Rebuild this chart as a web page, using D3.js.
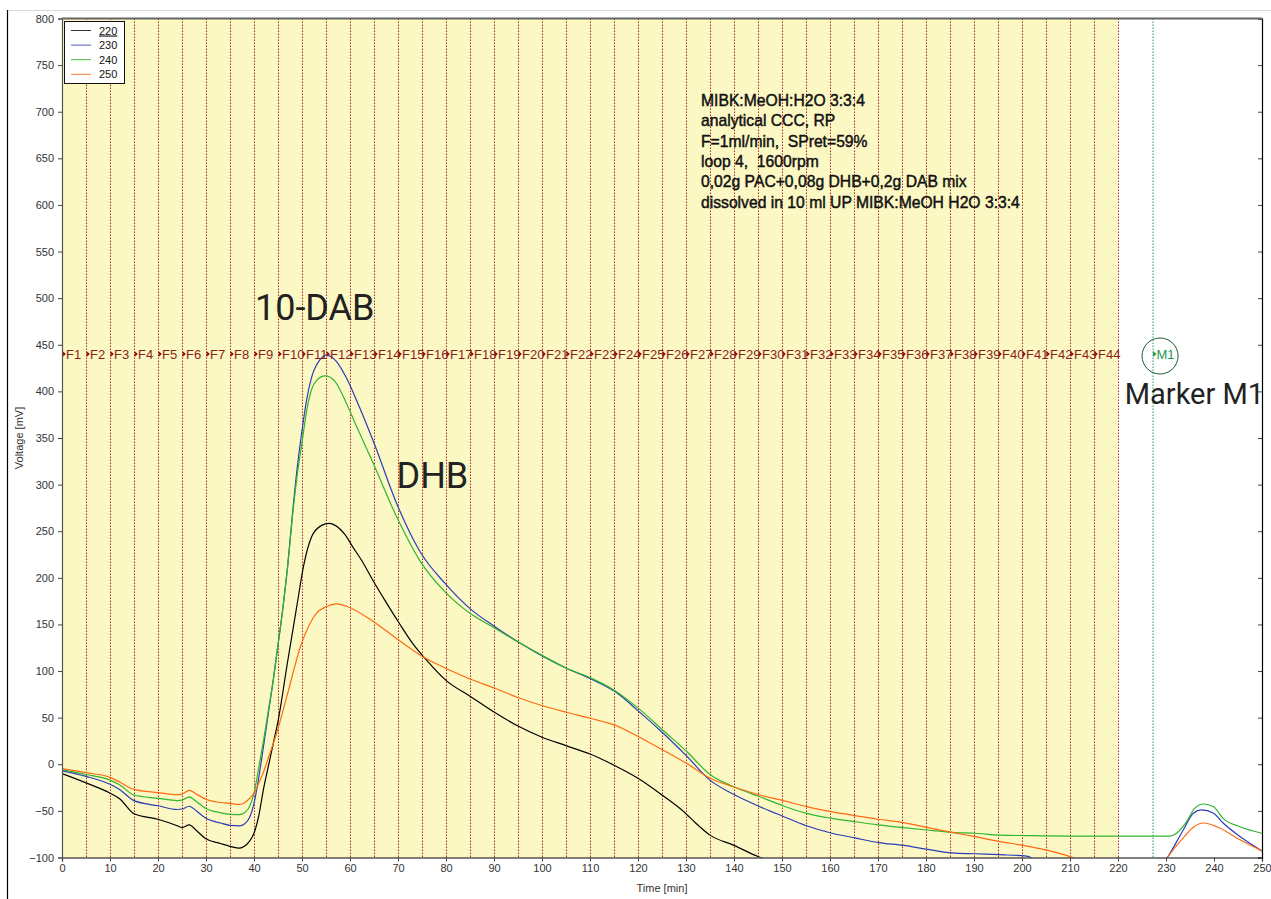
<!DOCTYPE html>
<html>
<head>
<meta charset="utf-8">
<script src="https://cdn.jsdelivr.net/npm/d3@7"></script>
<style>
  html, body { margin: 0; padding: 0; background: #fff; }
  svg { display: block; }
</style>
</head>
<body>
<svg id="chart" width="1271" height="899"></svg>
<script>
// Chromatogram: UV detector traces at four wavelengths (nm)
const seriesNames = ["220", "230", "240", "250"];
const seriesColors = ["#000000", "#2b3cb8", "#2fb52f", "#ff6a10"];
const legendColors = ["#333333", "#4a5cc4", "#3cc03c", "#f37a2a"];

const t220 = [0, 5, 10, 12, 15, 20, 24, 25, 26.5, 28, 30, 33, 35, 37, 38, 39, 40, 41, 42, 43, 44, 45, 47, 49, 50.3, 52, 54, 55.7, 57, 59, 60.6, 62.5, 64.7, 67.5, 70.3, 73, 75.9, 80, 85, 90, 95, 100, 105, 110, 115, 120, 125, 130, 132, 135, 140, 145, 150];
const v220 = [-10, -20, -31, -37, -53, -59, -66, -68, -65, -71, -80, -85, -88, -90, -88, -83, -74, -55, -26, -2, 22, 46, 110, 172, 212, 244, 256, 258.5, 256, 246, 233, 218, 198, 174, 151, 130, 112, 90, 73, 56, 41, 29, 20, 11, -1, -15, -33, -53, -63, -76, -87, -99, -108];

const t230 = [0, 5, 10, 12, 15, 20, 24, 25, 26.5, 28, 30, 33, 35, 37, 38, 39, 40, 41, 42, 43, 44, 45, 46, 47, 48, 49, 50, 51, 52, 53.75, 55.1, 57.2, 59.3, 61.4, 64.9, 69.7, 74.6, 79.8, 85, 90.2, 95.4, 100.3, 105.1, 110, 115.2, 120.1, 125.3, 130.1, 135, 140.2, 145.4, 150.3, 155.1, 160.4, 165.2, 170.1, 175.3, 180.1, 185.4, 190.2, 195.4, 201, 203, 215, 229, 230.3, 233.6, 235.7, 237.4, 239.9, 241.9, 245.4, 250];
const v230 = [-7, -13, -21.5, -27, -39, -44.5, -48.5, -48, -45, -50, -58, -63, -65.5, -66, -64, -58, -42, -14, 20, 55, 90, 128, 167, 212, 268, 318, 358, 392, 415, 434, 439, 432, 414, 390, 346, 280, 228, 194, 167, 147.6, 130, 115.5, 103, 92, 78, 57, 33, 9, -17, -33, -45.5, -56, -66, -74, -79, -84, -87, -91, -95, -96, -97, -98.5, -103, -120, -110, -100, -70.5, -52.6, -49, -52.6, -63, -77.5, -93];

const t240 = [0, 5, 10, 12, 15, 20, 24, 25, 26.5, 28, 30, 33, 35, 37, 38, 39, 40, 41, 42, 43, 44, 45, 46, 47, 48, 49, 50, 51, 52, 53.1, 54.8, 56.9, 59, 61.4, 64.9, 69.7, 74.6, 79.8, 85, 90.2, 95.4, 100.3, 105.1, 110, 115.2, 120.1, 125.3, 130.1, 135, 140.2, 145.4, 150.3, 155.1, 160.4, 165.2, 170.1, 175.3, 180.1, 185.4, 190.2, 195.4, 201, 210, 220, 230.8, 232.2, 234.3, 236, 237.8, 239.9, 241.9, 245.4, 250];
const v240 = [-5.7, -11, -17, -22, -33, -36.5, -39, -38.5, -35, -40, -47.5, -52, -53.7, -54, -52, -46, -31, -3, 26, 58, 90, 128, 167, 212, 265, 310, 345, 380, 402, 412, 416.6, 410.5, 390, 362, 322, 265.7, 218, 185, 162, 146, 130, 116, 103, 93, 79, 60, 36, 14, -11, -24.7, -34.8, -44.7, -52.6, -58, -61.6, -65, -68, -70.5, -73, -74, -76, -76.5, -77, -77, -77, -74, -61.6, -47, -42.6, -45.5, -58, -67, -74];

const t250 = [0, 5, 10, 12, 15, 20, 24, 25, 26.5, 28, 30, 33, 35, 37, 38, 39, 40, 41, 42, 43, 44, 44.7, 46.8, 49.9, 53, 55, 57.2, 59.5, 64.9, 69.7, 75.3, 80.5, 85, 90.2, 95.4, 100.3, 105.1, 110, 115.2, 120.1, 125.3, 130.1, 135, 140.2, 145.4, 150.3, 155.1, 160.4, 165.2, 170.1, 175.3, 180.1, 185.4, 190.2, 195.4, 200.2, 205.1, 210, 212, 220, 229, 230.3, 233.6, 235.7, 237.8, 240.6, 245.4, 250];
const v250 = [-4.7, -9, -14, -19, -27, -30.4, -32.6, -32, -28, -32, -37.6, -41, -42, -43, -41.5, -37, -31, -20, -8, 7, 22, 33, 72, 129.5, 162, 169, 172, 169, 153, 135, 115, 101.6, 91.5, 81.5, 70.8, 62.5, 55.8, 49.4, 42, 29.6, 15, 1, -15, -24.7, -33, -39, -45.5, -51, -55, -59, -62.6, -67.6, -73, -77.7, -83, -87, -92, -99, -103, -115, -110, -100, -79, -67.6, -63, -67, -81, -93];

const seriesTimes = [t220, t230, t240, t250];
const seriesValues = [v220, v230, v240, v250];

// Fraction collection: one fraction every 5 min, F1..F44, ending at 220 min
const fractionStarts = d3.range(0, 220, 5);
const fractionLabels = fractionStarts.map((_, i) => "F" + (i + 1));
const fractionEnd = 220;
const markerTime = 227.3;
const markerLabel = "M1";

const xTicks = d3.range(0, 251, 10);
const yTicks = d3.range(-100, 801, 50);

const notes = [
  "MIBK:MeOH:H2O 3:3:4",
  "analytical CCC, RP",
  "F=1ml/min,  SPret=59%",
  "loop 4,  1600rpm",
  "0,02g PAC+0,08g DHB+0,2g DAB mix",
  "dissolved in 10 ml UP MIBK:MeOH H2O 3:3:4"
];

const peakLabels = [
  { text: "10-DAB", t: 40.2, v: 477 },
  { text: "DHB", t: 69.7, v: 296 },
  { text: "Marker M1", t: 221.4, v: 386 }
];

const svg = d3.select("#chart");
const W = 1271, H = 899;
const plot = { left: 62, right: 1262, top: 18.5, bottom: 857.5 };

const x = d3.scaleLinear().domain([0, 250]).range([plot.left, plot.right]);
const y = d3.scaleLinear().domain([-100, 800]).range([plot.bottom, plot.top]);

const font = "'Liberation Sans', Arial, sans-serif";

// Outer window frame
svg.append("line").attr("x1", 7).attr("x2", W).attr("y1", 10.5).attr("y2", 10.5)
  .attr("stroke", "#d8d8d8").attr("stroke-width", 1);
svg.append("line").attr("x1", 7.5).attr("x2", 7.5).attr("y1", 10).attr("y2", H)
  .attr("stroke", "#000").attr("stroke-width", 1.2);

svg.append("defs").append("clipPath").attr("id", "plotClip")
  .append("rect")
  .attr("x", plot.left).attr("y", plot.top)
  .attr("width", plot.right - plot.left).attr("height", plot.bottom - plot.top);

// Shaded collection window
svg.append("rect")
  .attr("x", x(0)).attr("y", plot.top)
  .attr("width", x(fractionEnd) - x(0)).attr("height", plot.bottom - plot.top)
  .attr("fill", "#fcf8c4");

// Fraction boundaries
const fracG = svg.append("g");
fracG.selectAll("line")
  .data(fractionStarts.concat([fractionEnd]))
  .join("line")
  .attr("x1", d => Math.round(x(d)) + 0.5).attr("x2", d => Math.round(x(d)) + 0.5)
  .attr("y1", plot.top).attr("y2", plot.bottom)
  .attr("stroke", "#a3282a").attr("stroke-width", 1)
  .attr("stroke-dasharray", "1.5,1.5");

// Marker line
svg.append("line")
  .attr("x1", x(markerTime)).attr("x2", x(markerTime))
  .attr("y1", plot.top).attr("y2", plot.bottom)
  .attr("stroke", "#1e9a4a").attr("stroke-width", 1)
  .attr("stroke-dasharray", "1.5,1.5");

// Traces
const line = d3.line()
  .x(d => x(d[0])).y(d => y(d[1]))
  .curve(d3.curveMonotoneX);

const traces = svg.append("g").attr("clip-path", "url(#plotClip)");
seriesNames.forEach((name, i) => {
  const pts = seriesTimes[i].map((t, j) => [t, seriesValues[i][j]]);
  traces.append("path")
    .datum(pts)
    .attr("d", line)
    .attr("fill", "none")
    .attr("stroke", seriesColors[i])
    .attr("stroke-width", 1.2);
});

// Fraction labels
const labelY = 359;
const fl = svg.append("g");
fractionStarts.forEach((t, i) => {
  const px = Math.round(x(t)) + 0.5;
  fl.append("path")
    .attr("d", `M${px},${labelY - 8} L${px + 3.5},${labelY - 5} L${px},${labelY - 2} Z`)
    .attr("fill", "#8c1c1c");
  fl.append("text")
    .attr("x", px + 3.5).attr("y", labelY)
    .attr("font-family", font).attr("font-size", 13)
    .attr("fill", "#8c1c1c")
    .text(fractionLabels[i]);
});

// Marker label with circle
const mx = x(markerTime);
svg.append("circle").attr("cx", mx + 7).attr("cy", 356).attr("r", 18)
  .attr("fill", "none").attr("stroke", "#1f5a2e").attr("stroke-width", 1);
svg.append("path")
  .attr("d", `M${mx},${labelY - 8} L${mx + 3.5},${labelY - 5} L${mx},${labelY - 2} Z`)
  .attr("fill", "#1e9a4a");
svg.append("text").attr("x", mx + 3.5).attr("y", labelY)
  .attr("font-family", font).attr("font-size", 13).attr("fill", "#1e9a4a")
  .text(markerLabel);

// Axes
const xAxis = d3.axisBottom(x).tickValues(xTicks).tickSize(4).tickPadding(3);
const gx = svg.append("g").attr("transform", `translate(0,${plot.bottom})`).call(xAxis);
const yAxis = d3.axisLeft(y).tickValues(yTicks).tickSize(4).tickPadding(4);
const gy = svg.append("g").attr("transform", `translate(${plot.left},0)`).call(yAxis);
const yAxisR = d3.axisLeft(y).tickValues(yTicks).tickSize(4).tickFormat("");
const gyr = svg.append("g").attr("transform", `translate(${plot.right},0)`).call(yAxisR);

[gx, gy, gyr].forEach(g => {
  g.selectAll("text").attr("font-family", font).attr("font-size", 11).attr("fill", "#333");
  g.selectAll(".tick line").attr("stroke", "#444");
  g.select(".domain").attr("stroke", "#000").attr("stroke-width", 1.2);
});
gy.select(".domain").attr("stroke", "#555");
// top border of plot box
svg.append("line").attr("x1", plot.left).attr("x2", plot.right)
  .attr("y1", plot.top).attr("y2", plot.top)
  .attr("stroke", "#666").attr("stroke-width", 2);

// Axis titles
svg.append("text")
  .attr("transform", `translate(23,${(plot.top + plot.bottom) / 2}) rotate(-90)`)
  .attr("text-anchor", "middle")
  .attr("font-family", font).attr("font-size", 11).attr("fill", "#333")
  .text("Voltage [mV]");
svg.append("text")
  .attr("x", (plot.left + plot.right) / 2).attr("y", 892)
  .attr("text-anchor", "middle")
  .attr("font-family", font).attr("font-size", 11).attr("fill", "#333")
  .text("Time [min]");

// Legend
const lg = svg.append("g");
lg.append("rect").attr("x", 64.5).attr("y", 21.5).attr("width", 60).attr("height", 62)
  .attr("fill", "#fff").attr("stroke", "#111").attr("stroke-width", 1);
seriesNames.forEach((name, i) => {
  const ly = 30.5 + i * 14.6;
  lg.append("line").attr("x1", 71).attr("x2", 91).attr("y1", ly).attr("y2", ly)
    .attr("stroke", legendColors[i]).attr("stroke-width", 1);
  const t = lg.append("text").attr("x", 99).attr("y", ly + 4)
    .attr("font-family", font).attr("font-size", 11).attr("fill", "#111")
    .text(name);
  if (i === 0) t.attr("text-decoration", "underline");
});

// Run conditions
const ng = svg.append("g");
notes.forEach((s, i) => {
  ng.append("text")
    .attr("x", 701).attr("y", 106 + i * 20.3)
    .attr("font-family", font).attr("font-size", 15.7)
    .attr("fill", "#111").attr("stroke", "#111").attr("stroke-width", 0.45)
    .style("white-space", "pre")
    .text(s);
});

// Peak annotations
peakLabels.forEach((p, i) => {
  svg.append("text")
    .attr("x", x(p.t)).attr("y", y(p.v))
    .attr("font-family", "Roboto, 'Open Sans', sans-serif")
    .attr("font-size", i === 2 ? 29 : 36)
    .attr("fill", "#222")
    .text(p.text);
});
</script>
</body>
</html>
